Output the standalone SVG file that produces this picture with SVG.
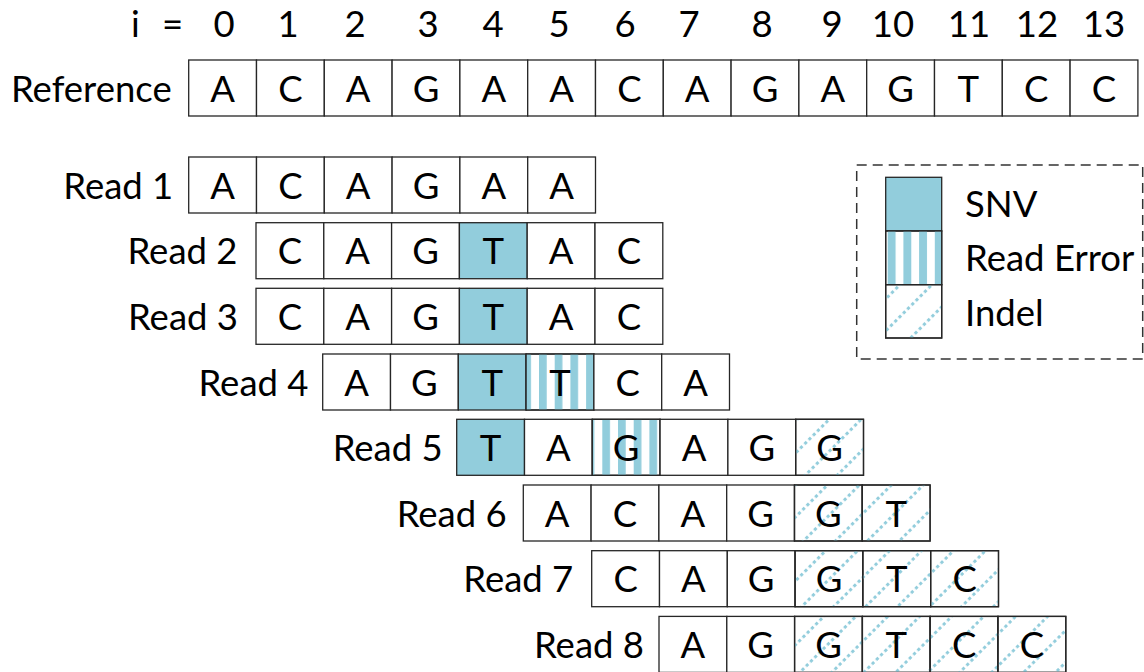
<svg xmlns="http://www.w3.org/2000/svg" width="1144" height="672" viewBox="0 0 1144 672">
<style>
.c{fill:#fff;stroke:#262626;stroke-width:1.3}
.s{fill:#92CDDC;stroke:#262626;stroke-width:1.3}
.o{stroke:#262626;stroke-width:1.3}
.t{font-family:Lato,"Open Sans",sans-serif;font-size:36.5px;fill:#000;text-anchor:middle}
.l{font-family:Lato,"Open Sans",sans-serif;font-size:36.5px;fill:#000;text-anchor:end}
.g{font-family:Lato,"Open Sans",sans-serif;font-size:36.5px;fill:#000;text-anchor:start}
</style>
<defs>
<pattern id="e4" patternUnits="userSpaceOnUse" x="539" y="0" width="15.7" height="10"><rect width="7.7" height="10" fill="#92CDDC"/></pattern>
<pattern id="e5" patternUnits="userSpaceOnUse" x="602.3" y="0" width="15.7" height="10"><rect width="7.7" height="10" fill="#92CDDC"/></pattern>
<pattern id="eL" patternUnits="userSpaceOnUse" x="887.7" y="0" width="15.7" height="10"><rect width="7.9" height="10" fill="#92CDDC"/></pattern>
<pattern id="ind" patternUnits="userSpaceOnUse" width="22.6" height="6" patternTransform="rotate(45)"><rect width="2.9" height="3.2" fill="#92CDDC"/></pattern>
</defs>

<g id="index-row">
<text class="g" x="131" y="36.7" word-spacing="13">i =</text>
<text class="t" x="224" y="36.7">0</text>
<text class="t" x="288" y="36.7">1</text>
<text class="t" x="355" y="36.7">2</text>
<text class="t" x="428" y="36.7">3</text>
<text class="t" x="493" y="36.7">4</text>
<text class="t" x="559" y="36.7">5</text>
<text class="t" x="625" y="36.7">6</text>
<text class="t" x="689" y="36.7">7</text>
<text class="t" x="762" y="36.7">8</text>
<text class="t" x="832" y="36.7">9</text>
<text class="t" x="893" y="36.7">10</text>
<text class="t" x="969" y="36.7">11</text>
<text class="t" x="1037" y="36.7">12</text>
<text class="t" x="1104" y="36.7">13</text>
</g>

<g id="reference">
<text class="l" x="171.7" y="101.7">Reference</text>
<rect class="c" x="188.7" y="60" width="67.8" height="56"/>
<rect class="c" x="256.5" y="60" width="67.8" height="56"/>
<rect class="c" x="324.3" y="60" width="67.8" height="56"/>
<rect class="c" x="392.1" y="60" width="67.8" height="56"/>
<rect class="c" x="459.9" y="60" width="67.8" height="56"/>
<rect class="c" x="527.7" y="60" width="67.8" height="56"/>
<rect class="c" x="595.5" y="60" width="67.8" height="56"/>
<rect class="c" x="663.3" y="60" width="67.8" height="56"/>
<rect class="c" x="731.1" y="60" width="67.8" height="56"/>
<rect class="c" x="798.9" y="60" width="67.8" height="56"/>
<rect class="c" x="866.7" y="60" width="67.8" height="56"/>
<rect class="c" x="934.5" y="60" width="67.8" height="56"/>
<rect class="c" x="1002.3" y="60" width="67.8" height="56"/>
<rect class="c" x="1070.1" y="60" width="67.8" height="56"/>
<text class="t" x="222.6" y="101.7">A</text>
<text class="t" x="290.4" y="101.7">C</text>
<text class="t" x="358.2" y="101.7">A</text>
<text class="t" x="426" y="101.7">G</text>
<text class="t" x="493.8" y="101.7">A</text>
<text class="t" x="561.6" y="101.7">A</text>
<text class="t" x="629.4" y="101.7">C</text>
<text class="t" x="697.2" y="101.7">A</text>
<text class="t" x="765" y="101.7">G</text>
<text class="t" x="832.8" y="101.7">A</text>
<text class="t" x="900.6" y="101.7">G</text>
<text class="t" x="968.4" y="101.7">T</text>
<text class="t" x="1036.2" y="101.7">C</text>
<text class="t" x="1104" y="101.7">C</text>
</g>

<g id="read1">
<text class="l" x="173.3" y="198.5">Read 1</text>
<rect class="c" x="188.7" y="157" width="67.8" height="56"/>
<rect class="c" x="256.5" y="157" width="67.8" height="56"/>
<rect class="c" x="324.3" y="157" width="67.8" height="56"/>
<rect class="c" x="392.1" y="157" width="67.8" height="56"/>
<rect class="c" x="459.9" y="157" width="67.8" height="56"/>
<rect class="c" x="527.7" y="157" width="67.8" height="56"/>
<text class="t" x="222.6" y="198.5">A</text>
<text class="t" x="290.4" y="198.5">C</text>
<text class="t" x="358.2" y="198.5">A</text>
<text class="t" x="426" y="198.5">G</text>
<text class="t" x="493.8" y="198.5">A</text>
<text class="t" x="561.6" y="198.5">A</text>
</g>

<g id="read2">
<text class="l" x="237.5" y="264.2">Read 2</text>
<rect class="c" x="256" y="222.7" width="67.8" height="56"/>
<rect class="c" x="323.8" y="222.7" width="67.8" height="56"/>
<rect class="c" x="391.6" y="222.7" width="67.8" height="56"/>
<rect class="s" x="459.4" y="222.7" width="67.8" height="56"/>
<rect class="c" x="527.2" y="222.7" width="67.8" height="56"/>
<rect class="c" x="595" y="222.7" width="67.8" height="56"/>
<text class="t" x="289.9" y="264.2">C</text>
<text class="t" x="357.7" y="264.2">A</text>
<text class="t" x="425.5" y="264.2">G</text>
<text class="t" x="493.3" y="264.2">T</text>
<text class="t" x="561.1" y="264.2">A</text>
<text class="t" x="628.9" y="264.2">C</text>
</g>

<g id="read3">
<text class="l" x="238" y="329.8">Read 3</text>
<rect class="c" x="256" y="288.3" width="67.8" height="56"/>
<rect class="c" x="323.8" y="288.3" width="67.8" height="56"/>
<rect class="c" x="391.6" y="288.3" width="67.8" height="56"/>
<rect class="s" x="459.4" y="288.3" width="67.8" height="56"/>
<rect class="c" x="527.2" y="288.3" width="67.8" height="56"/>
<rect class="c" x="595" y="288.3" width="67.8" height="56"/>
<text class="t" x="289.9" y="329.8">C</text>
<text class="t" x="357.7" y="329.8">A</text>
<text class="t" x="425.5" y="329.8">G</text>
<text class="t" x="493.3" y="329.8">T</text>
<text class="t" x="561.1" y="329.8">A</text>
<text class="t" x="628.9" y="329.8">C</text>
</g>

<g id="read4">
<text class="l" x="308.5" y="395.5">Read 4</text>
<rect class="c" x="322.7" y="354" width="67.8" height="56"/>
<rect class="c" x="390.5" y="354" width="67.8" height="56"/>
<rect class="s" x="458.3" y="354" width="67.8" height="56"/>
<rect class="c" x="526.1" y="354" width="67.8" height="56"/>
<rect class="o" fill="url(#e4)" x="526.1" y="354" width="67.8" height="56"/>
<rect class="c" x="593.9" y="354" width="67.8" height="56"/>
<rect class="c" x="661.7" y="354" width="67.8" height="56"/>
<text class="t" x="356.6" y="395.5">A</text>
<text class="t" x="424.4" y="395.5">G</text>
<text class="t" x="492.2" y="395.5">T</text>
<text class="t" x="560" y="395.5">T</text>
<text class="t" x="627.8" y="395.5">C</text>
<text class="t" x="695.6" y="395.5">A</text>
</g>

<g id="read5">
<text class="l" x="442.7" y="460.8">Read 5</text>
<rect class="s" x="456.7" y="419.3" width="67.8" height="56"/>
<rect class="c" x="524.5" y="419.3" width="67.8" height="56"/>
<rect class="c" x="592.3" y="419.3" width="67.8" height="56"/>
<rect class="o" fill="url(#e5)" x="592.3" y="419.3" width="67.8" height="56"/>
<rect class="c" x="660.1" y="419.3" width="67.8" height="56"/>
<rect class="c" x="727.9" y="419.3" width="67.8" height="56"/>
<rect class="c" x="795.7" y="419.3" width="67.8" height="56"/>
<rect class="o" fill="url(#ind)" x="795.7" y="419.3" width="67.8" height="56"/>
<text class="t" x="490.6" y="460.8">T</text>
<text class="t" x="558.4" y="460.8">A</text>
<text class="t" x="626.2" y="460.8">G</text>
<text class="t" x="694" y="460.8">A</text>
<text class="t" x="761.8" y="460.8">G</text>
<text class="t" x="829.6" y="460.8">G</text>
</g>

<g id="read6">
<text class="l" x="506.7" y="526.5">Read 6</text>
<rect class="c" x="523.3" y="485" width="67.8" height="56"/>
<rect class="c" x="591.1" y="485" width="67.8" height="56"/>
<rect class="c" x="658.9" y="485" width="67.8" height="56"/>
<rect class="c" x="726.7" y="485" width="67.8" height="56"/>
<rect class="c" x="794.5" y="485" width="67.8" height="56"/>
<rect class="o" fill="url(#ind)" x="794.5" y="485" width="67.8" height="56"/>
<rect class="c" x="862.3" y="485" width="67.8" height="56"/>
<rect class="o" fill="url(#ind)" x="862.3" y="485" width="67.8" height="56"/>
<text class="t" x="557.2" y="526.5">A</text>
<text class="t" x="625" y="526.5">C</text>
<text class="t" x="692.8" y="526.5">A</text>
<text class="t" x="760.6" y="526.5">G</text>
<text class="t" x="828.4" y="526.5">G</text>
<text class="t" x="896.2" y="526.5">T</text>
</g>

<g id="read7">
<text class="l" x="573.3" y="592.2">Read 7</text>
<rect class="c" x="591.7" y="550.7" width="67.8" height="56"/>
<rect class="c" x="659.5" y="550.7" width="67.8" height="56"/>
<rect class="c" x="727.3" y="550.7" width="67.8" height="56"/>
<rect class="c" x="795.1" y="550.7" width="67.8" height="56"/>
<rect class="o" fill="url(#ind)" x="795.1" y="550.7" width="67.8" height="56"/>
<rect class="c" x="862.9" y="550.7" width="67.8" height="56"/>
<rect class="o" fill="url(#ind)" x="862.9" y="550.7" width="67.8" height="56"/>
<rect class="c" x="930.7" y="550.7" width="67.8" height="56"/>
<rect class="o" fill="url(#ind)" x="930.7" y="550.7" width="67.8" height="56"/>
<text class="t" x="625.6" y="592.2">C</text>
<text class="t" x="693.4" y="592.2">A</text>
<text class="t" x="761.2" y="592.2">G</text>
<text class="t" x="829" y="592.2">G</text>
<text class="t" x="896.8" y="592.2">T</text>
<text class="t" x="964.6" y="592.2">C</text>
</g>

<g id="read8">
<text class="l" x="644" y="657.9">Read 8</text>
<rect class="c" x="659" y="616.4" width="67.8" height="56"/>
<rect class="c" x="726.8" y="616.4" width="67.8" height="56"/>
<rect class="c" x="794.6" y="616.4" width="67.8" height="56"/>
<rect class="o" fill="url(#ind)" x="794.6" y="616.4" width="67.8" height="56"/>
<rect class="c" x="862.4" y="616.4" width="67.8" height="56"/>
<rect class="o" fill="url(#ind)" x="862.4" y="616.4" width="67.8" height="56"/>
<rect class="c" x="930.2" y="616.4" width="67.8" height="56"/>
<rect class="o" fill="url(#ind)" x="930.2" y="616.4" width="67.8" height="56"/>
<rect class="c" x="998" y="616.4" width="67.8" height="56"/>
<rect class="o" fill="url(#ind)" x="998" y="616.4" width="67.8" height="56"/>
<text class="t" x="692.9" y="657.9">A</text>
<text class="t" x="760.7" y="657.9">G</text>
<text class="t" x="828.5" y="657.9">G</text>
<text class="t" x="896.3" y="657.9">T</text>
<text class="t" x="964.1" y="657.9">C</text>
<text class="t" x="1031.9" y="657.9">C</text>
</g>

<g id="legend">
<rect x="856.7" y="165" width="286" height="194" fill="none" stroke="#333" stroke-width="1.5" stroke-dasharray="10 6"/>
<rect class="s" x="885.7" y="177.3" width="56" height="53.7"/>
<rect class="c" x="885.7" y="231" width="56" height="53.7"/>
<rect class="o" fill="url(#eL)" x="885.7" y="231" width="56" height="53.7"/>
<rect class="c" x="885.7" y="284.7" width="56" height="53.3"/>
<rect class="o" fill="url(#ind)" x="885.7" y="284.7" width="56" height="53.3"/>
<text class="g" x="965" y="216.7">SNV</text>
<text class="g" x="965" y="271">Read Error</text>
<text class="g" x="965" y="325.7">Indel</text>
</g>
<g id="connectors"/>
</svg>
